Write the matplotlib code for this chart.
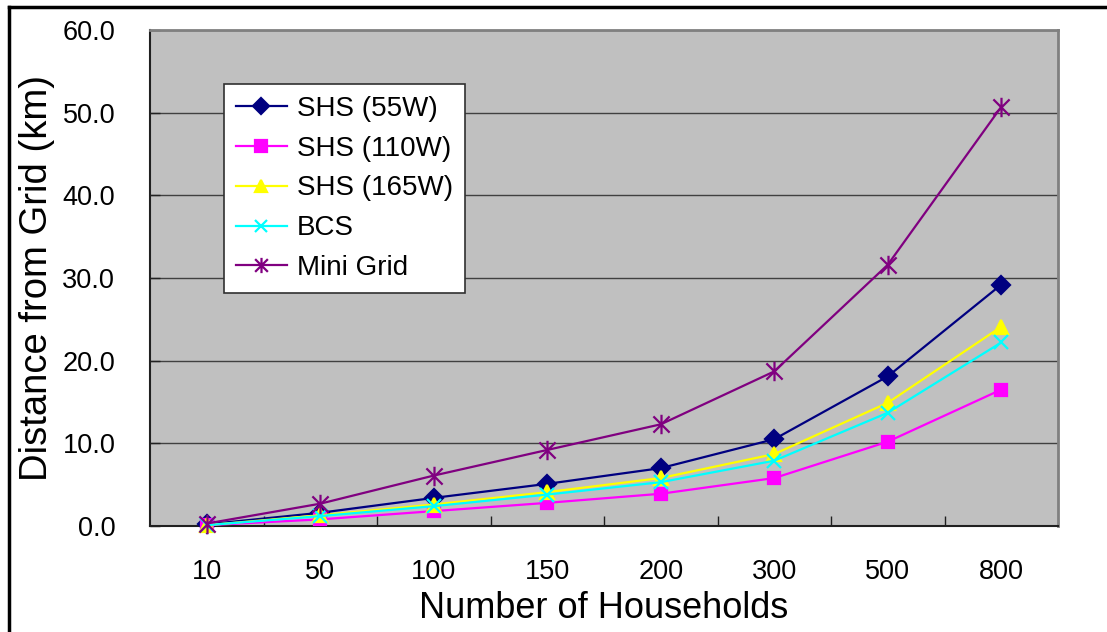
import matplotlib
matplotlib.use("Agg")
import matplotlib.pyplot as plt
from matplotlib.path import Path
from matplotlib.lines import Line2D
import numpy as np

plt.rcParams['font.family'] = ['Liberation Sans', 'DejaVu Sans']

# households per village (categorical axis)
households = ["10", "50", "100", "150", "200", "300", "500", "800"]

# break-even distance from the grid, km
shs_55w = [0.2, 1.6, 3.4, 5.1, 7.0, 10.5, 18.1, 29.2]
shs_110w = [0.1, 0.8, 1.8, 2.8, 3.9, 5.8, 10.2, 16.5]
shs_165w = [0.1, 1.3, 2.6, 4.1, 5.8, 8.7, 14.9, 24.1]
bcs = [0.1, 1.2, 2.4, 3.8, 5.3, 7.9, 13.7, 22.2]
mini_grid = [0.3, 2.7, 6.1, 9.2, 12.3, 18.7, 31.6, 50.7]

# excel style "star" marker: an x with a vertical bar through it
star = Path([(-1, -1), (1, 1), (-1, 1), (1, -1), (0, -1.2), (0, 1.2)],
            [Path.MOVETO, Path.LINETO, Path.MOVETO, Path.LINETO,
             Path.MOVETO, Path.LINETO])

series = [
    ("SHS (55W)", shs_55w, "#000080", "D", 9, 8),
    ("SHS (110W)", shs_110w, "#FF00FF", "s", 9, 8),
    ("SHS (165W)", shs_165w, "#FFFF00", "^", 10, 9),
    ("BCS", bcs, "#00FFFF", "x", 10, 9),
    ("Mini Grid", mini_grid, "#800080", star, 14, 11),
]

fig = plt.figure(figsize=(11.07, 6.32), dpi=100)
ax = fig.add_axes([150 / 1107, 106 / 632, 908 / 1107, 496 / 632])
ax.set_facecolor("#C0C0C0")

x = np.arange(len(households))
for name, vals, col, mk, ms, lms in series:
    ax.plot(x, vals, color=col, lw=1.6, marker=mk, markersize=ms,
            markerfacecolor=col, markeredgecolor=col, markeredgewidth=1.6,
            label=name, clip_on=False, zorder=3)

ax.set_xlim(-0.5, len(households) - 0.5)
ax.set_ylim(0, 60)
ax.set_yticks(np.arange(0, 61, 10))
ax.set_yticklabels(["%.1f" % v for v in np.arange(0, 61, 10)])
ax.set_xticks(x)
ax.set_xticklabels(households)
ax.set_xticks(x[:-1] + 0.5, minor=True)

ax.yaxis.grid(True, color="#404040", lw=1.0)
ax.set_axisbelow(True)

ax.tick_params(axis="y", direction="in", length=7, width=1, pad=25,
               labelsize=19.5, color="#202020")
ax.tick_params(axis="x", which="major", length=0, pad=24, labelsize=19.5)
ax.tick_params(axis="x", which="minor", direction="in", length=7, width=1,
               color="#202020")

for s in ["left", "bottom"]:
    ax.spines[s].set_color("#202020")
    ax.spines[s].set_linewidth(1.5)
for s in ["top", "right"]:
    ax.spines[s].set_color("#808080")
    ax.spines[s].set_linewidth(2)

ax.set_xlabel("Number of Households", fontsize=26)
ax.xaxis.label.set_va("center")
ax.xaxis.set_label_coords(0.5, (526 - 608) / 496)
ax.set_ylabel("Distance from Grid (km)", fontsize=27.5)
ax.yaxis.label.set_va("center")
ax.yaxis.set_label_coords((37 - 150) / 908, 0.5)

leg = ax.legend(loc="upper left", bbox_to_anchor=((224 - 150) / 908, (526 - 84) / 496),
                borderaxespad=0, fontsize=20, frameon=True, fancybox=False,
                framealpha=1, edgecolor="#303030", handlelength=1.85,
                labelspacing=0.5, borderpad=0.42, handletextpad=0.35)
leg.get_frame().set_linewidth(1.2)
for h, s in zip(leg.legend_handles, series):
    h.set_markersize(s[5])

# outer frame, top and left edges
fig.add_artist(Line2D([9 / 1107, 1], [1 - 7 / 632, 1 - 7 / 632],
                      transform=fig.transFigure, color="black", lw=2.5))
fig.add_artist(Line2D([9 / 1107, 9 / 1107], [0, 1 - 7 / 632],
                      transform=fig.transFigure, color="black", lw=2.5))

fig.savefig("out.png", dpi=100, facecolor="white")
